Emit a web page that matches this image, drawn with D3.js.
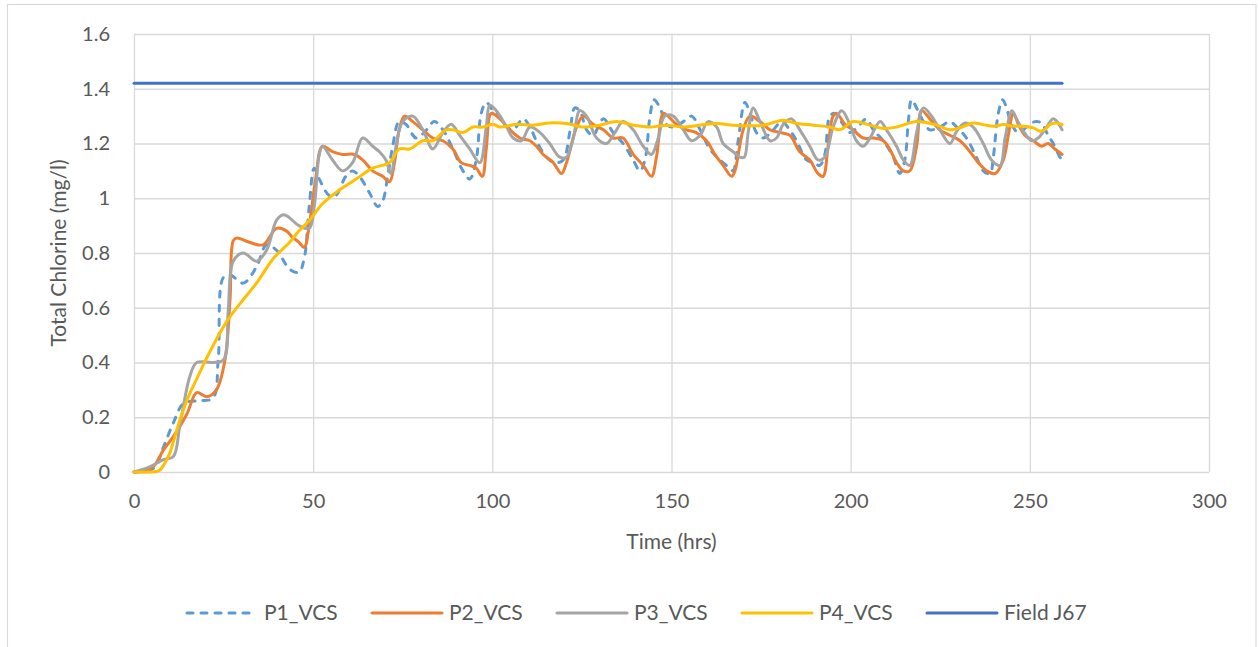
<!DOCTYPE html>
<html>
<head>
<meta charset="utf-8">
<script src="https://cdn.jsdelivr.net/npm/d3@7"></script>
<style>
  html, body { margin: 0; padding: 0; background: #fff; }
  svg { display: block; }
  text { font-family: Lato, "Noto Sans", sans-serif; fill: #595959; }
</style>
</head>
<body>
<svg id="chart" width="1259" height="647"></svg>
<script>
// Time axis ticks (hrs) and chlorine axis ticks (mg/l)
const timeTicks = [0, 50, 100, 150, 200, 250, 300];
const chlorineTicks = [0, 0.2, 0.4, 0.6, 0.8, 1, 1.2, 1.4, 1.6];

const seriesNames = ["P1_VCS", "P2_VCS", "P3_VCS", "P4_VCS", "Field J67"];

// P1_VCS
const p1Hours = [0, 4, 6, 8.2, 11, 13.8, 17.5, 22, 23.5, 24.9, 26.8, 30.5, 34.2, 37, 39.8, 43.5, 46, 47.5, 48.9, 50.3,
  51.7, 54.5, 56.3, 59.1, 61, 62.9, 65.7, 68, 69.4, 70.8, 72.2, 74, 75.9, 78.7, 81, 83.8, 86.2, 89, 91.8, 93.7,
  95.5, 96.9, 98.3, 100.2, 102.1, 104, 105.8, 108.6, 110.5, 112.3, 115.1, 117.5, 119.8, 121.6, 123, 124.4, 126.3, 128.1, 131, 133.7,
  136.5, 139.3, 141.2, 142.6, 144, 145.1, 146.8, 148.6, 150.5, 153.3, 155.6, 158, 160.7, 163.5, 166.3, 167.2, 168.6, 170.5, 171.9, 173.7,
  175.6, 178.4, 180.7, 183, 184.9, 187.7, 189.6, 191.4, 192.8, 194.2, 195.6, 197.9, 199.8, 202.6, 204.4, 206.3, 209.1, 211.9, 213.7, 215.1,
  216.1, 217, 218.4, 220.3, 222.1, 224.9, 227.7, 229.6, 232.3, 235.1, 237, 238.9, 239.8, 241.2, 242.4, 243.5, 244.9, 246.8, 249.1, 251.4,
  253.3, 254.7, 256.5, 258.4, 259];
const p1Chlorine = [0, 0.005, 0.02, 0.09, 0.18, 0.25, 0.26, 0.27, 0.41, 0.71, 0.72, 0.69, 0.75, 0.83, 0.81, 0.74, 0.73, 0.78, 0.97, 1.11,
  1.07, 1.01, 1.01, 1.08, 1.10, 1.08, 1.02, 0.97, 0.99, 1.08, 1.19, 1.28, 1.27, 1.22, 1.24, 1.28, 1.25, 1.18, 1.10, 1.07,
  1.14, 1.31, 1.35, 1.32, 1.30, 1.26, 1.25, 1.29, 1.26, 1.21, 1.15, 1.13, 1.14, 1.24, 1.33, 1.32, 1.25, 1.23, 1.29, 1.24,
  1.20, 1.14, 1.10, 1.14, 1.30, 1.36, 1.33, 1.27, 1.26, 1.28, 1.30, 1.25, 1.18, 1.14, 1.11, 1.10, 1.21, 1.35, 1.31, 1.24,
  1.22, 1.25, 1.28, 1.25, 1.21, 1.14, 1.13, 1.12, 1.16, 1.30, 1.31, 1.27, 1.24, 1.27, 1.29, 1.25, 1.21, 1.15, 1.09, 1.14,
  1.28, 1.36, 1.33, 1.28, 1.25, 1.26, 1.28, 1.26, 1.22, 1.15, 1.10, 1.09, 1.15, 1.31, 1.36, 1.33, 1.27, 1.24, 1.26, 1.28,
  1.275, 1.24, 1.20, 1.15, 1.14];

// P2_VCS
const p2Hours = [0, 3, 5.4, 8.2, 11, 14.7, 17.5, 20.3, 23, 25.4, 26.8, 27.7, 28.7, 32, 36, 39.8, 42.6, 44, 46, 47.5,
  48.9, 50.7, 52.6, 55.4, 58.2, 61.5, 63.8, 66.6, 69.4, 71.3, 72.7, 74, 75.5, 77.8, 80.6, 83.4, 86.2, 89, 91.3, 93.7,
  95.5, 97.2, 98.3, 99.7, 102.1, 104.9, 107.7, 110.5, 112.3, 114.2, 117, 119.3, 120.7, 123.5, 125.4, 128.1, 131, 133.7, 136.5, 139.3,
  142.1, 144.4, 145.8, 147.7, 149, 151.4, 154.2, 156.9, 159.8, 162.1, 164.4, 166.8, 167.7, 170, 171.9, 174.7, 177.5, 180.3, 183, 185.8,
  188.6, 190.9, 192.3, 193.7, 195.1, 196.1, 198.4, 200.7, 203.5, 206.3, 209.1, 210.9, 212.8, 214.7, 216.5, 218.4, 219.8, 222.1, 224.9, 227.7,
  230.5, 233.3, 235.6, 238, 240.3, 242.6, 244, 245.4, 246.8, 248.6, 251, 253.3, 255.1, 257, 259];
const p2Chlorine = [0, 0.005, 0.02, 0.08, 0.13, 0.21, 0.29, 0.275, 0.30, 0.41, 0.63, 0.845, 0.855, 0.84, 0.83, 0.89, 0.88, 0.86, 0.84, 0.82,
  0.90, 1.07, 1.19, 1.17, 1.16, 1.16, 1.14, 1.10, 1.08, 1.06, 1.13, 1.25, 1.30, 1.28, 1.25, 1.22, 1.21, 1.18, 1.13, 1.12,
  1.11, 1.08, 1.18, 1.31, 1.29, 1.25, 1.22, 1.21, 1.19, 1.16, 1.13, 1.09, 1.13, 1.26, 1.30, 1.27, 1.25, 1.22, 1.22, 1.16,
  1.12, 1.08, 1.15, 1.31, 1.30, 1.27, 1.25, 1.24, 1.21, 1.16, 1.12, 1.08, 1.10, 1.25, 1.30, 1.28, 1.25, 1.24, 1.23, 1.17,
  1.14, 1.09, 1.08, 1.19, 1.30, 1.31, 1.27, 1.25, 1.22, 1.22, 1.21, 1.18, 1.13, 1.10, 1.10, 1.19, 1.32, 1.29, 1.25, 1.23,
  1.21, 1.17, 1.13, 1.10, 1.09, 1.14, 1.23, 1.31, 1.27, 1.23, 1.21, 1.19, 1.20, 1.18, 1.16];

// P3_VCS
const p3Hours = [0, 4.5, 8.2, 11, 12.8, 15.6, 17.5, 22, 25, 26.3, 27.7, 30.5, 34.2, 37, 39.8, 41.7, 43.3, 46, 48.9, 50.3,
  51.7, 52.6, 55.4, 58.2, 61, 63.8, 66.6, 68.5, 70.3, 71.7, 73.1, 75, 77.8, 80.6, 83.4, 86.2, 88.5, 90.9, 93.7, 96.5,
  98.3, 99.3, 101.1, 104, 105.8, 108.1, 110.5, 113.3, 116, 118.8, 120.7, 122.6, 124.4, 126.3, 129.1, 131.9, 134.2, 136.5, 139.3, 142.1,
  144.4, 146.3, 148.1, 150.5, 153.3, 155.6, 158, 160.2, 162.6, 164.4, 167.2, 169.1, 170.3, 171.4, 172.8, 174.7, 177.5, 179.3, 181.2, 183.5,
  185.8, 188.6, 190.9, 192.8, 195.1, 197.5, 199.8, 201.6, 203.5, 205.4, 208.2, 210, 212.8, 214.7, 216.5, 218.4, 220.3, 222.6, 224.9, 227.7,
  229.6, 231.9, 234.2, 237, 239.3, 241.7, 243.1, 245, 246.3, 248.2, 250.5, 252.3, 254.7, 256.5, 257.9, 259];
const p3Chlorine = [0, 0.02, 0.045, 0.057, 0.17, 0.35, 0.40, 0.40, 0.41, 0.59, 0.77, 0.80, 0.77, 0.81, 0.92, 0.94, 0.93, 0.90, 0.89, 0.97,
  1.16, 1.19, 1.14, 1.10, 1.13, 1.22, 1.19, 1.17, 1.14, 1.09, 1.19, 1.28, 1.30, 1.25, 1.18, 1.24, 1.27, 1.23, 1.18, 1.13,
  1.26, 1.34, 1.32, 1.26, 1.22, 1.21, 1.26, 1.24, 1.20, 1.15, 1.15, 1.22, 1.32, 1.30, 1.22, 1.20, 1.24, 1.28, 1.25, 1.19,
  1.16, 1.22, 1.30, 1.30, 1.25, 1.21, 1.23, 1.28, 1.26, 1.20, 1.17, 1.15, 1.15, 1.24, 1.33, 1.28, 1.21, 1.22, 1.27, 1.29,
  1.25, 1.19, 1.14, 1.15, 1.26, 1.32, 1.27, 1.21, 1.19, 1.22, 1.28, 1.25, 1.19, 1.14, 1.12, 1.24, 1.33, 1.30, 1.25, 1.20,
  1.245, 1.275, 1.26, 1.20, 1.14, 1.12, 1.22, 1.32, 1.29, 1.245, 1.21, 1.22, 1.26, 1.29, 1.275, 1.25];

// P4_VCS
const p4Hours = [0, 4, 7, 8.5, 10, 12.8, 15, 17.5, 21.2, 25.9, 30.5, 34.2, 38.9, 43.5, 46, 49, 52.6, 57.3, 62, 66.6,
  71.3, 74, 76.9, 80.6, 83.4, 87.1, 89, 91.8, 94.6, 97.4, 100.2, 102.1, 106.8, 111.4, 116, 120.7, 125.4, 130, 134.7, 139.3,
  144, 148.6, 153.3, 157.9, 162.6, 167.2, 171.5, 175.6, 179.3, 181.2, 184.9, 189.6, 194.2, 197, 200.7, 205.4, 209.1, 212.8, 218.4, 224,
  227.7, 231.5, 234.2, 237, 239.8, 242.6, 245.4, 248.2, 251, 252.8, 254.2, 255.6, 257.5, 259];
const p4Chlorine = [0, 0, 0.005, 0.03, 0.07, 0.19, 0.27, 0.34, 0.44, 0.55, 0.63, 0.69, 0.78, 0.84, 0.88, 0.92, 0.98, 1.03, 1.07, 1.11,
  1.13, 1.18, 1.18, 1.21, 1.21, 1.25, 1.25, 1.24, 1.26, 1.26, 1.27, 1.26, 1.27, 1.267, 1.275, 1.273, 1.26, 1.267, 1.28, 1.267,
  1.26, 1.267, 1.26, 1.267, 1.273, 1.267, 1.265, 1.267, 1.28, 1.285, 1.273, 1.267, 1.26, 1.25, 1.28, 1.267, 1.255, 1.26, 1.28, 1.267,
  1.25, 1.262, 1.275, 1.269, 1.263, 1.269, 1.263, 1.263, 1.257, 1.245, 1.251, 1.269, 1.275, 1.269];

// Field J67 measured level
const fieldHours = [0, 259];
const fieldChlorine = [1.42, 1.42];

const seriesHours = [p1Hours, p2Hours, p3Hours, p4Hours, fieldHours];
const seriesChlorine = [p1Chlorine, p2Chlorine, p3Chlorine, p4Chlorine, fieldChlorine];
const seriesColors = ["#5B9BD5", "#ED7D31", "#A5A5A5", "#FFC000", "#4472C4"];
const seriesDashes = ["6,8", null, null, null, null];

const svg = d3.select("#chart");
const W = 1259, H = 647;
const plot = { left: 134, right: 1209, top: 34, bottom: 472 };

// outer chart frame
svg.append("rect")
  .attr("x", 7.5).attr("y", 4.5)
  .attr("width", 1248.5).attr("height", H + 10)
  .attr("fill", "#fff").attr("stroke", "#D9D9D9").attr("stroke-width", 1.2);

const x = d3.scaleLinear().domain([0, 300]).range([plot.left, plot.right]);
const y = d3.scaleLinear().domain([0, 1.6]).range([plot.bottom, plot.top]);

// horizontal gridlines + y tick labels
const yAxis = d3.axisLeft(y).tickValues(chlorineTicks)
  .tickSize(-(plot.right - plot.left)).tickPadding(24)
  .tickFormat(d => String(+d.toFixed(1)));
const gy = svg.append("g").attr("transform", `translate(${plot.left},0)`).call(yAxis);
gy.select(".domain").remove();
gy.selectAll(".tick line").attr("stroke", "#D9D9D9").attr("stroke-width", 1.3);
gy.selectAll(".tick text").style("font-size", "20px").attr("fill", "#595959");

// vertical gridlines + x tick labels
const xAxis = d3.axisBottom(x).tickValues(timeTicks)
  .tickSize(-(plot.bottom - plot.top)).tickPadding(22)
  .tickFormat(d3.format("d"));
const gx = svg.append("g").attr("transform", `translate(0,${plot.bottom})`).call(xAxis);
gx.select(".domain").remove();
gx.selectAll(".tick line").attr("stroke", "#D9D9D9").attr("stroke-width", 1.3);
gx.selectAll(".tick text").style("font-size", "20px").attr("fill", "#595959");

// axis titles
svg.append("text")
  .attr("x", (plot.left + plot.right) / 2).attr("y", 549)
  .attr("text-anchor", "middle").style("font-size", "21px")
  .text("Time (hrs)");
svg.append("text")
  .attr("transform", `translate(66,${(plot.top + plot.bottom) / 2}) rotate(-90)`)
  .attr("text-anchor", "middle").style("font-size", "21px")
  .text("Total Chlorine (mg/l)");

// series lines (smoothed)
const line = d3.line()
  .x(d => x(d[0]))
  .y(d => y(d[1]))
  .curve(d3.curveCatmullRom.alpha(0.5));

seriesNames.forEach((name, i) => {
  const pts = seriesHours[i].map((h, k) => [h, seriesChlorine[i][k]]);
  svg.append("path")
    .datum(pts)
    .attr("d", line)
    .attr("fill", "none")
    .attr("stroke", seriesColors[i])
    .attr("stroke-width", 3)
    .attr("stroke-linecap", "round")
    .attr("stroke-linejoin", "round")
    .attr("stroke-dasharray", seriesDashes[i]);
});

// legend
const legendX = [187, 372, 557, 742, 927];
const legendY = 613;
const lg = svg.append("g");
seriesNames.forEach((name, i) => {
  const g = lg.append("g").attr("transform", `translate(${legendX[i]},${legendY})`);
  g.append("line")
    .attr("x1", 0).attr("x2", 70).attr("y1", 0).attr("y2", 0)
    .attr("stroke", seriesColors[i]).attr("stroke-width", 3)
    .attr("stroke-linecap", "round")
    .attr("stroke-dasharray", seriesDashes[i]);
  g.append("text")
    .attr("x", 77).attr("y", 0).attr("dy", "0.35em")
    .style("font-size", "21px")
    .text(name);
});
</script>
</body>
</html>
